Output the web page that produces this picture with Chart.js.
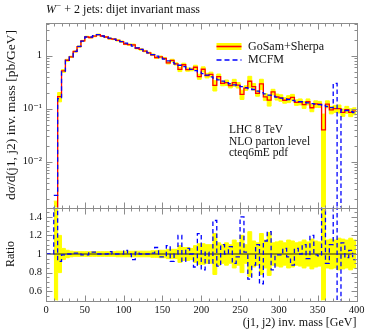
<!DOCTYPE html>
<html>
<head>
<meta charset="utf-8">
<script src="https://cdn.jsdelivr.net/npm/chart.js@4.4.0/dist/chart.umd.min.js"></script>
<style>
  html, body { margin: 0; padding: 0; background: #fff; }
  #quadro { position: relative; width: 368px; height: 332px; }
  canvas { position: absolute; left: 0; top: 0; }
</style>
</head>
<body>
<div id="quadro">
  <canvas id="graficoTopo" width="368" height="332"></canvas>
  <canvas id="graficoRazao" width="368" height="332"></canvas>
</div>
<script>
// bins de 5 GeV (borda inferior), ultimo termina em 400
const binLow = [0, 5, 10, 15, 20, 25, 30, 35, 40, 45, 50, 55, 60, 65, 70, 75, 80, 85, 90, 95,
  100, 105, 110, 115, 120, 125, 130, 135, 140, 145, 150, 155, 160, 165, 170, 175, 180, 185, 190, 195,
  200, 205, 210, 215, 220, 225, 230, 235, 240, 245, 250, 255, 260, 265, 270, 275, 280, 285, 290, 295,
  300, 305, 310, 315, 320, 325, 330, 335, 340, 345, 350, 355, 360, 365, 370, 375, 380, 385, 390, 395];
const xMax = 400;

// GoSam+Sherpa [pb/GeV]
const sherpa = [null, null, 0.00092, 0.168, 0.515, 0.82, 0.95, 1.198, 1.485, 1.899,
  2.273, 2.206, 2.333, 2.5, 2.35, 2.25, 2.098, 2.06, 1.95, 1.84,
  1.663, 1.62, 1.606, 1.382, 1.31, 1.22, 1.13, 1.04, 0.916, 0.948,
  0.887, 0.734, 0.815, 0.7, 0.55, 0.674, 0.547, 0.55, 0.605, 0.402,
  0.554, 0.422, 0.444, 0.276, 0.402, 0.3, 0.31, 0.273, 0.311, 0.278,
  0.186, 0.245, 0.329, 0.261, 0.195, 0.294, 0.167, 0.145, 0.207, 0.167,
  0.16, 0.144, 0.153, 0.163, 0.131, 0.135, 0.119, 0.135, 0.104, 0.123,
  0.121, 0.0397, 0.122, 0.095, 0.1, 0.1, 0.085, 0.096, 0.085, 0.09];

// erro relativo da banda amarela
const sherpaErr = [null, null, 0.95, 0.2, 0.06, 0.04, 0.03, 0.025, 0.025, 0.025,
  0.025, 0.025, 0.025, 0.025, 0.025, 0.025, 0.025, 0.025, 0.03, 0.03,
  0.03, 0.03, 0.03, 0.03, 0.03, 0.03, 0.03, 0.035, 0.035, 0.04,
  0.04, 0.05, 0.05, 0.05, 0.09, 0.07, 0.07, 0.06, 0.09, 0.11,
  0.11, 0.1, 0.1, 0.22, 0.12, 0.1, 0.12, 0.1, 0.15, 0.12,
  0.2, 0.1, 0.24, 0.14, 0.12, 0.22, 0.15, 0.23, 0.12, 0.13,
  0.14, 0.12, 0.15, 0.14, 0.12, 0.13, 0.15, 0.13, 0.16, 0.14,
  0.13, 0.99, 0.15, 0.16, 0.15, 0.17, 0.16, 0.15, 0.17, 0.15];

// MCFM / GoSam+Sherpa (painel de baixo)
const mcfmRatio = [1, 1, 2.5, 0.92, 0.99, 1.0, 1.0, 1.01, 1.01, 0.99,
  0.99, 1.02, 1.02, 1.0, 1.0, 1.0, 1.025, 1.0, 1.0, 1.0,
  1.04, 1.0, 0.94, 1.02, 1.0, 1.0, 1.0, 1.01, 1.07, 0.97,
  0.97, 1.09, 0.92, 1.0, 1.2, 0.92, 1.06, 1.0, 0.86, 1.22,
  0.83, 1.02, 0.9, 1.36, 0.87, 1.1, 1.0, 1.08, 0.9, 0.97,
  1.4, 1.02, 0.73, 0.88, 1.1, 0.68, 1.14, 1.24, 0.83, 0.99,
  0.99, 1.06, 0.97, 0.88, 1.06, 1.0, 1.1, 0.95, 1.2, 0.99,
  0.98, 2.9, 0.9, 1.1, 3.0, 0.005, 1.12, 0.96, 1.04, 0.94];

const xTicks = [0, 50, 100, 150, 200, 250, 300, 350, 400];
const logTicks = [0.01, 0.1, 1];
const ratioTicks = [0.6, 0.8, 1, 1.2, 1.4];

const fonteSerif = '"Liberation Serif", "DejaVu Serif", serif';
const corMoldura = '#8c8c8c';
Chart.defaults.font.family = fonteSerif;
Chart.defaults.color = '#111';

// marcas menores (so decoracao do eixo)
const xMinor = [];
for (let v = 10; v < 400; v += 10) if (v % 50 !== 0) xMinor.push(v);
const logMinor = [];
[0.001, 0.01, 0.1, 1].forEach(d => { for (let m = 2; m <= 9; m++) logMinor.push(m * d); });
const ratioMinor = [];
for (let k = 11; k <= 29; k++) if (k % 4 !== 0) ratioMinor.push(k * 0.05);

function degraus(valores) {
  const pts = binLow.map((x, i) => ({ x: x, y: valores[i] }));
  pts.push({ x: xMax, y: valores[valores.length - 1] });
  return pts;
}

const mcfm = sherpa.map((v, i) => v === null ? null : v * mcfmRatio[i]);
const bandaCima = sherpa.map((v, i) => v === null ? null : v * (1 + sherpaErr[i]));
const bandaBaixo = sherpa.map((v, i) => v === null ? null : v * (1 - sherpaErr[i]));
const razaoCima = sherpaErr.map(e => e === null ? null : 1 + e);
const razaoBaixo = sherpaErr.map(e => e === null ? null : 1 - e);

const px = v => Math.round(v) + 0.5;

// moldura cinza com marcas para dentro, nos quatro lados
const molduraPlugin = {
  id: 'moldura',
  afterDatasetsDraw(chart, args, opts) {
    const { ctx, chartArea: a, scales } = chart;
    const L = px(a.left), R = px(a.right), T = px(a.top), B = px(a.bottom);
    ctx.save();
    ctx.strokeStyle = corMoldura;
    ctx.lineWidth = 1;
    ctx.strokeRect(L, T, R - L, B - T);
    ctx.beginPath();
    const marcaX = (v, len) => {
      const p = px(scales.x.getPixelForValue(v));
      ctx.moveTo(p, T); ctx.lineTo(p, T + len);
      ctx.moveTo(p, B); ctx.lineTo(p, B - len);
    };
    const marcaY = (v, len) => {
      const p = scales.y.getPixelForValue(v);
      if (p < a.top - 0.5 || p > a.bottom + 0.5) return;
      const q = px(p);
      ctx.moveTo(L, q); ctx.lineTo(L + len, q);
      ctx.moveTo(R, q); ctx.lineTo(R - len, q);
    };
    xTicks.forEach(v => marcaX(v, 6));
    xMinor.forEach(v => marcaX(v, 3));
    opts.yMajor.forEach(v => marcaY(v, 6));
    opts.yMinor.forEach(v => marcaY(v, 3));
    ctx.stroke();
    ctx.restore();
  }
};

// titulo, legenda e anotacoes do painel de cima
const textosPlugin = {
  id: 'textos',
  afterDraw(chart) {
    const ctx = chart.ctx;
    ctx.save();
    ctx.fillStyle = '#111';
    ctx.textBaseline = 'middle';
    let x = 46;
    ctx.font = 'italic 12px ' + fonteSerif;
    ctx.fillText('W', x, 9.5);
    x += ctx.measureText('W').width + 0.5;
    ctx.font = '8.5px ' + fonteSerif;
    ctx.fillText('\u2212', x, 5.5);
    x += ctx.measureText('\u2212').width;
    ctx.font = '12px ' + fonteSerif;
    ctx.fillText(' + 2 jets: dijet invariant mass', x, 9.5);

    // legenda
    ctx.fillStyle = '#ffff00';
    ctx.fillRect(216.5, 43, 25, 7);
    ctx.strokeStyle = '#ff0000';
    ctx.lineWidth = 1.6;
    ctx.beginPath(); ctx.moveTo(216.5, 46.5); ctx.lineTo(241.5, 46.5); ctx.stroke();
    ctx.strokeStyle = '#0000ff';
    ctx.lineWidth = 1.3;
    ctx.setLineDash([5, 3]);
    ctx.beginPath(); ctx.moveTo(216.5, 60); ctx.lineTo(241.5, 60); ctx.stroke();
    ctx.setLineDash([]);
    ctx.fillStyle = '#111';
    ctx.font = '12px ' + fonteSerif;
    ctx.fillText('GoSam+Sherpa', 248, 46.5);
    ctx.fillText('MCFM', 248, 60);

    ctx.font = '11.5px ' + fonteSerif;
    ctx.fillText('LHC 8 TeV', 229, 130);
    ctx.fillText('NLO parton level', 229, 141.7);
    ctx.fillText('cteq6mE pdf', 229, 153);
    ctx.restore();
  }
};

const estiloDegrau = { stepped: true, pointRadius: 0, clip: 0, spanGaps: false };

new Chart(document.getElementById('graficoTopo').getContext('2d'), {
  type: 'line',
  data: {
    datasets: [
      Object.assign({ data: degraus(mcfm), borderColor: '#0000ff', borderWidth: 1.3,
        borderDash: [4.5, 3], fill: false, order: 0 }, estiloDegrau),
      Object.assign({ data: degraus(sherpa), borderColor: '#ff0000', borderWidth: 1.3,
        fill: false, order: 1 }, estiloDegrau),
      Object.assign({ data: degraus(bandaCima), borderColor: '#ffff00', borderWidth: 1,
        fill: false, order: 2 }, estiloDegrau),
      Object.assign({ data: degraus(bandaBaixo), borderColor: '#ffff00', borderWidth: 1,
        backgroundColor: '#ffff00', fill: '-1', order: 3 }, estiloDegrau)
    ]
  },
  options: {
    responsive: false,
    animation: false,
    layout: { padding: { left: 0, top: 22.5, right: 11.5, bottom: 124.5 } },
    plugins: {
      legend: { display: false },
      tooltip: { enabled: false },
      moldura: { yMajor: logTicks, yMinor: logMinor }
    },
    scales: {
      x: { type: 'linear', min: 0, max: xMax, display: false },
      y: {
        type: 'logarithmic',
        min: 0.00136,
        max: 4.23,
        afterFit: s => { s.width = 46; },
        afterBuildTicks: s => { s.ticks = logTicks.map(v => ({ value: v })); },
        grid: { display: false, drawTicks: false },
        border: { display: false },
        ticks: {
          autoSkip: false,
          padding: 4,
          font: { size: 10.5 },
          color: '#111',
          callback: function (value) {
            if (value === 1) return '1';
            if (Math.abs(value - 0.1) < 1e-9) return '10\u207B\u00B9';
            if (Math.abs(value - 0.01) < 1e-9) return '10\u207B\u00B2';
            return '';
          }
        },
        title: {
          display: true,
          text: 'd\u03C3/d(j1, j2) inv. mass [pb/GeV]',
          font: { size: 13.5 },
          color: '#111',
          padding: { top: 3, bottom: 0 }
        }
      }
    }
  },
  plugins: [molduraPlugin, textosPlugin]
});

new Chart(document.getElementById('graficoRazao').getContext('2d'), {
  type: 'line',
  data: {
    datasets: [
      Object.assign({ data: degraus(mcfmRatio), borderColor: '#0000ff', borderWidth: 1.3,
        borderDash: [4.5, 3], fill: false, order: 0 }, estiloDegrau),
      { data: [{ x: 0, y: 1 }, { x: xMax, y: 1 }], borderColor: '#222', borderWidth: 1,
        pointRadius: 0, fill: false, clip: 0, order: 1 },
      Object.assign({ data: degraus(razaoCima), borderColor: '#ffff00', borderWidth: 1,
        fill: false, order: 2 }, estiloDegrau),
      Object.assign({ data: degraus(razaoBaixo), borderColor: '#ffff00', borderWidth: 1,
        backgroundColor: '#ffff00', fill: '-1', order: 3 }, estiloDegrau)
    ]
  },
  options: {
    responsive: false,
    animation: false,
    layout: { padding: { left: 0, top: 207.5, right: 11.5, bottom: 0 } },
    plugins: {
      legend: { display: false },
      tooltip: { enabled: false },
      moldura: { yMajor: ratioTicks, yMinor: ratioMinor }
    },
    scales: {
      x: {
        type: 'linear',
        min: 0,
        max: xMax,
        afterFit: s => { s.height = 31.5; },
        afterBuildTicks: s => { s.ticks = xTicks.map(v => ({ value: v })); },
        grid: { display: false, drawTicks: false },
        border: { display: false },
        ticks: { autoSkip: false, maxRotation: 0, padding: 3, font: { size: 10.5 }, color: '#111' },
        title: {
          display: true,
          align: 'end',
          text: '(j1, j2) inv. mass [GeV]',
          font: { size: 12 },
          color: '#111',
          padding: { top: 0, bottom: 2 }
        }
      },
      y: {
        type: 'linear',
        min: 0.5,
        max: 1.5,
        afterFit: s => { s.width = 46; },
        afterBuildTicks: s => { s.ticks = ratioTicks.map(v => ({ value: v })); },
        grid: { display: false, drawTicks: false },
        border: { display: false },
        ticks: {
          autoSkip: false,
          padding: 4,
          font: { size: 10.5 },
          color: '#111',
          callback: value => String(Math.round(value * 10) / 10)
        },
        title: {
          display: true,
          text: 'Ratio',
          font: { size: 12 },
          color: '#111',
          padding: { top: 4, bottom: 0 }
        }
      }
    }
  },
  plugins: [molduraPlugin]
});
</script>
</body>
</html>
